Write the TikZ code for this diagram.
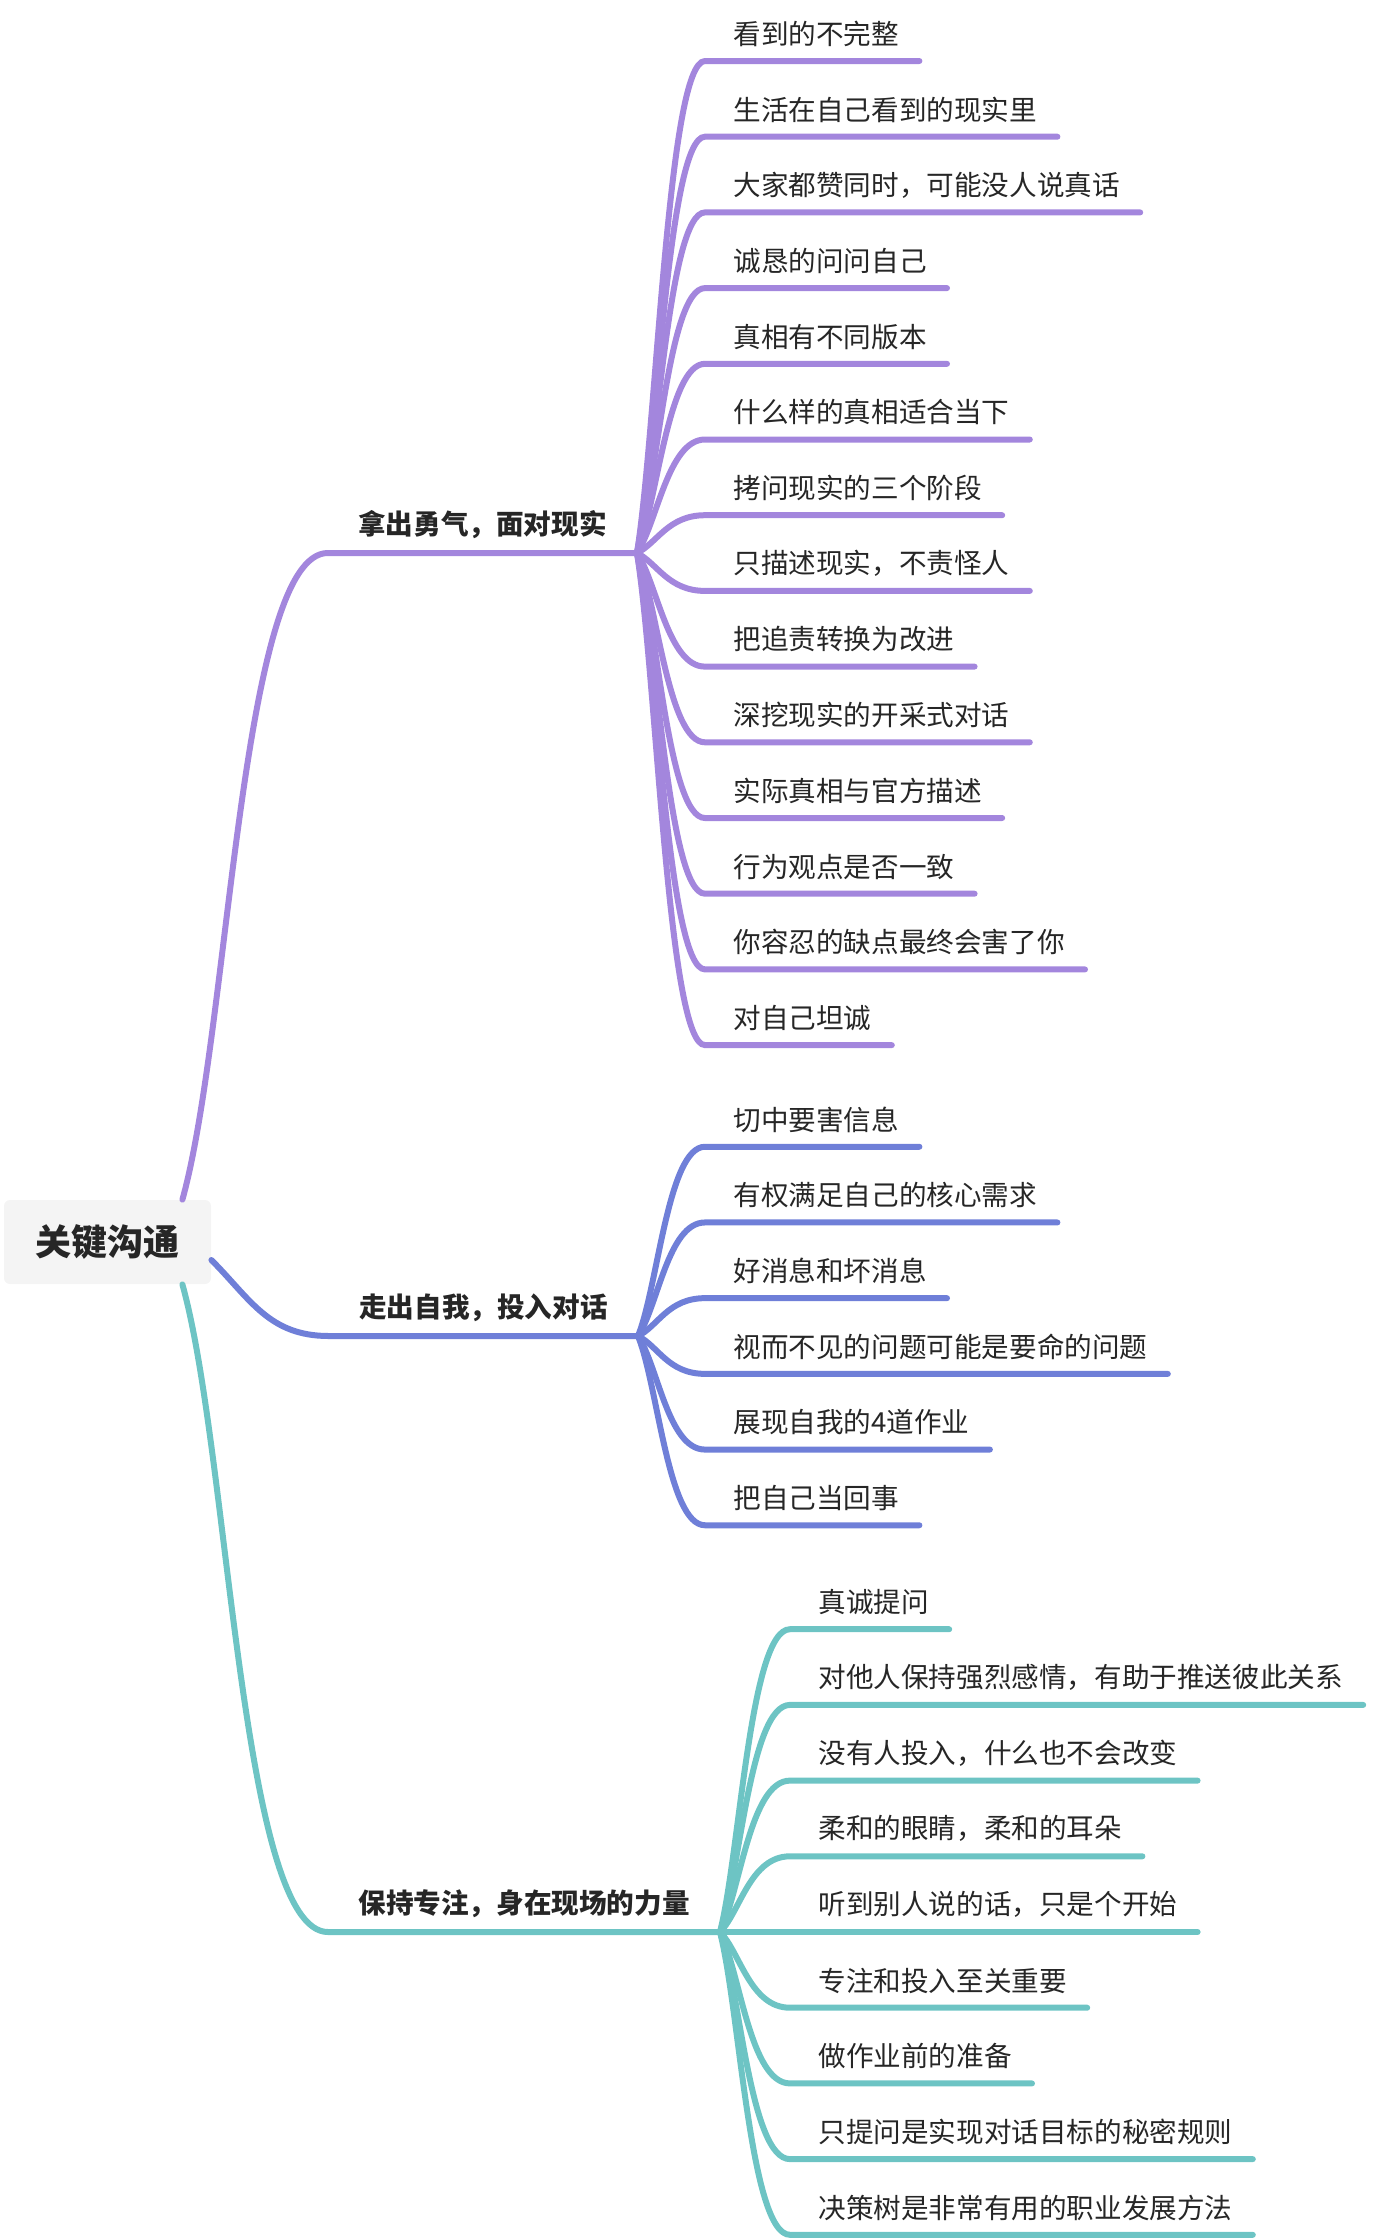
\documentclass[tikz,border=0pt]{standalone}
\usepackage{fontspec}
\setmainfont{Noto Sans CJK SC}
\usepackage{xcolor}
\definecolor{mpurple}{HTML}{A386DD}
\definecolor{mblue}{HTML}{6F7FD8}
\definecolor{mteal}{HTML}{6DC4C4}
\definecolor{mink}{HTML}{262626}
\definecolor{mroot}{HTML}{F4F4F4}
\usepackage{tikz}

\begin{document}
\begin{tikzpicture}[x=0.5pt,y=-0.5pt,
  rootbox/.style={rectangle,rounded corners=3pt,fill=mroot,minimum width=103.5pt,
                  minimum height=42pt,font=\fontsize{18}{20}\selectfont\bfseries,text=mink},
  branch/.style={anchor=south east,inner xsep=15pt,inner ysep=7pt,
                 font=\fontsize{13.8}{16}\selectfont\bfseries,text=mink},
  leaf/.style={anchor=south west,inner xsep=0pt,inner ysep=7pt,
               font=\fontsize{13.8}{16}\selectfont,text=mink,
               execute at begin node=\hspace*{14pt},execute at end node=\hspace*{10pt}},
  link/.style={line width=3pt,line cap=round}]
\useasboundingbox (0,0) rectangle (1372,2240);
\node[rootbox] (key) at (107.5,1242) {关键沟通};
\node[branch] (real) at (637,553) {拿出勇气，面对现实};
\node[branch] (talk) at (638,1336) {走出自我，投入对话};
\node[branch] (focus) at (720,1932) {保持专注，身在现场的力量};
\draw[link,mpurple] ([xshift=-14.5pt]key.north east) .. controls +(47,-168) and +(-87,0) .. (real.south west) -- (real.south east);
\draw[link,mblue] ([yshift=-9pt]key.east) .. controls +(39,39) and +(-60,0) .. (talk.south west) -- (talk.south east);
\draw[link,mteal] ([xshift=-14.5pt]key.south east) .. controls +(47,168) and +(-87,0) .. (focus.south west) -- (focus.south east);
\foreach \t [count=\i] in {看到的不完整,生活在自己看到的现实里,大家都赞同时，可能没人说真话,
  诚恳的问问自己,真相有不同版本,什么样的真相适合当下,拷问现实的三个阶段,只描述现实，不责怪人,
  把追责转换为改进,深挖现实的开采式对话,实际真相与官方描述,行为观点是否一致,
  你容忍的缺点最终会害了你,对自己坦诚} {
  \pgfmathsetmacro\ly{61+75.7*(\i-1)}
  \pgfmathsetmacro\dy{0.26*(\ly-553)}
  \node[leaf] (real\i) at (705,\ly) {\t};
  \draw[link,mpurple] (real.south east) .. controls +(20,\dy) and +(-37,0) .. (real\i.south west) -- (real\i.south east);
}
\foreach \t [count=\i] in {切中要害信息,有权满足自己的核心需求,好消息和坏消息,
  视而不见的问题可能是要命的问题,展现自我的4道作业,把自己当回事} {
  \pgfmathsetmacro\ly{1336+75.7*(\i-3.5)}
  \pgfmathsetmacro\dy{0.26*(\ly-1336)}
  \node[leaf] (talk\i) at (705,\ly) {\t};
  \draw[link,mblue] (talk.south east) .. controls +(20,\dy) and +(-37,0) .. (talk\i.south west) -- (talk\i.south east);
}
\foreach \t [count=\i] in {真诚提问,对他人保持强烈感情，有助于推送彼此关系,没有人投入，什么也不会改变,
  柔和的眼睛，柔和的耳朵,听到别人说的话，只是个开始,专注和投入至关重要,做作业前的准备,
  只提问是实现对话目标的秘密规则,决策树是非常有用的职业发展方法} {
  \pgfmathsetmacro\ly{1932+75.7*(\i-5)}
  \pgfmathsetmacro\dy{0.26*(\ly-1932)}
  \node[leaf] (focus\i) at (790,\ly) {\t};
  \draw[link,mteal] (focus.south east) .. controls +(20,\dy) and +(-40,0) .. (focus\i.south west) -- (focus\i.south east);
}
\end{tikzpicture}
\end{document}
